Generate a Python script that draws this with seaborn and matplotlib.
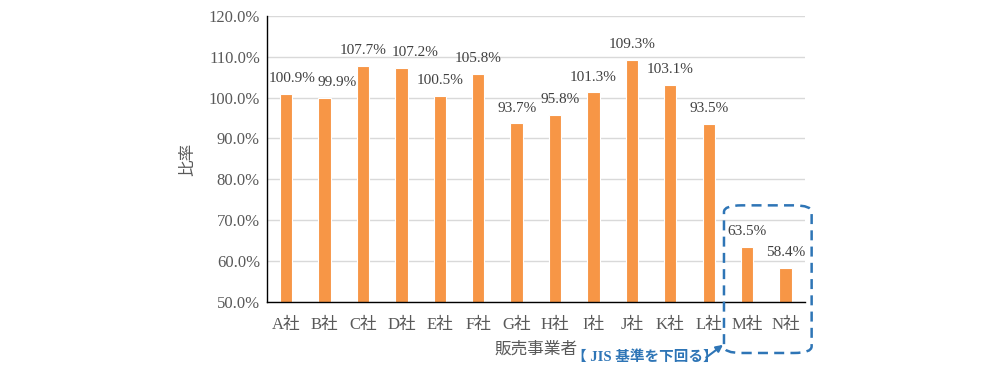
import numpy as np
import pandas as pd
import matplotlib
matplotlib.use("Agg")
import matplotlib.pyplot as plt
import seaborn as sns
from matplotlib.patches import FancyBboxPatch

# ── data ─────────────────────────────────────────────
companies = ["A社", "B社", "C社", "D社", "E社", "F社", "G社",
             "H社", "I社", "J社", "K社", "L社", "M社", "N社"]
ratio = [100.9, 99.9, 107.7, 107.2, 100.5, 105.8, 93.7,
         95.8, 101.3, 109.3, 103.1, 93.5, 63.5, 58.4]
yticks = [50, 60, 70, 80, 90, 100, 110, 120]

# horizontal nudge of the data labels (points), like Excel's overlap avoidance
label_shift = [4, 9, 0, 10, 0, 0, 0, 4, 0, 0, 0, 0, 0, 0]

df = pd.DataFrame({"company": companies, "ratio": ratio})

sns.set_theme(style="white")
plt.rcParams["font.family"] = ["Liberation Serif", "Noto Sans CJK JP", "DejaVu Sans"]

text_col = "#595959"
bar_col = "#F79646"
blue = "#2E75B6"

fig = plt.figure(figsize=(9.85, 3.70), dpi=100)
ax = fig.add_axes([0.271, 0.184, 0.546, 0.773])

sns.barplot(data=df, x="company", y="ratio", color=bar_col, width=0.32,
            saturation=1, edgecolor="white", linewidth=0.8, ax=ax)

ax.set_ylim(50, 120)
ax.set_xlim(-0.5, len(companies) - 0.5)
ax.set_yticks(yticks)
ax.set_yticklabels([f"{v:.1f}%" for v in yticks], fontsize=12, color=text_col)
ax.tick_params(axis="x", length=0, labelsize=12, labelcolor=text_col, pad=11)
ax.tick_params(axis="y", length=0, pad=5)
ax.set_xticks(np.arange(-0.5, len(companies)), minor=True)
ax.tick_params(axis="x", which="minor", length=5, width=1, color="black", direction="out")

ax.yaxis.grid(True, color="#D9D9D9", linewidth=1)
ax.set_axisbelow(True)
for s in ["top", "right"]:
    ax.spines[s].set_visible(False)
ax.spines["left"].set_color("black")
ax.spines["bottom"].set_color("black")
ax.spines["left"].set_linewidth(1)
ax.spines["bottom"].set_linewidth(1)

ax.set_ylabel("比率", fontsize=12, color=text_col, labelpad=9)
ax.set_xlabel("販売事業者", fontsize=12, color=text_col, labelpad=6)

# data labels
for i, (v, dx) in enumerate(zip(ratio, label_shift)):
    ax.annotate(f"{v:.1f}%", xy=(i, v), xytext=(dx, 11),
                textcoords="offset points", ha="center", va="center",
                fontsize=11, color="#404040")

# dashed highlight box around M/N
box = FancyBboxPatch((0.735, 0.046), 0.089, 0.399,
                     boxstyle="round,pad=0,rounding_size=0.018",
                     transform=fig.transFigure, fill=False,
                     edgecolor=blue, linewidth=1.8, linestyle=(0, (4, 2.5)),
                     clip_on=False)
fig.patches.append(box)

fig.text(0.581, 0.035, "【 JIS 基準を下回る】", fontsize=10.5, color=blue,
         ha="left", va="center", weight="bold")
ax.annotate("", xy=(0.734, 0.068), xytext=(0.717, 0.034),
            xycoords="figure fraction", textcoords="figure fraction",
            arrowprops=dict(arrowstyle="-|>", color=blue, lw=1.5,
                            mutation_scale=10, shrinkA=0, shrinkB=0))

fig.savefig("out.png", dpi=100)
